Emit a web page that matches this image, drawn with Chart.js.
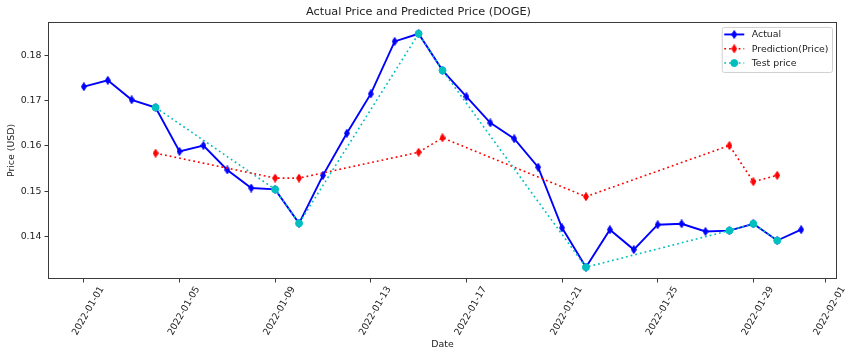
<!DOCTYPE html>
<html><head><meta charset="utf-8">
<script src="https://cdn.jsdelivr.net/npm/chart.js@4.4.0/dist/chart.umd.min.js"></script>
<style>html,body{margin:0;padding:0;background:#fff}#wrap{width:850px;height:358px}</style>
</head><body><div id="wrap"><canvas id="c" width="850" height="358"></canvas></div>
<script>
// ---- data ----
const actualDates = ["2022-01-01","2022-01-02","2022-01-03","2022-01-04","2022-01-05","2022-01-06","2022-01-07","2022-01-08","2022-01-09","2022-01-10","2022-01-11","2022-01-12","2022-01-13","2022-01-14","2022-01-15","2022-01-16","2022-01-17","2022-01-18","2022-01-19","2022-01-20","2022-01-21","2022-01-22","2022-01-23","2022-01-24","2022-01-25","2022-01-26","2022-01-27","2022-01-28","2022-01-29","2022-01-30","2022-01-31"];
const actualPrice = [0.1731,0.1745,0.1702,0.1685,0.1588,0.1601,0.1547,0.1507,0.1504,0.1429,0.1535,0.1628,0.1715,0.1831,0.1848,0.1767,0.1709,0.1651,0.1616,0.1553,0.1419,0.1332,0.1415,0.1371,0.1426,0.1428,0.1411,0.1413,0.1428,0.1391,0.1415];
const predictionDates = ["2022-01-04","2022-01-09","2022-01-10","2022-01-15","2022-01-16","2022-01-22","2022-01-28","2022-01-29","2022-01-30"];
const predictionPrice = [0.1584,0.1529,0.1529,0.1586,0.1618,0.1488,0.1601,0.1521,0.1535];
const testDates = ["2022-01-04","2022-01-09","2022-01-10","2022-01-15","2022-01-16","2022-01-22","2022-01-28","2022-01-29","2022-01-30"];
const testPrice = [0.1685,0.1504,0.1429,0.1848,0.1767,0.1332,0.1413,0.1428,0.1391];
const xTickLabels = ["2022-01-01","2022-01-05","2022-01-09","2022-01-13","2022-01-17","2022-01-21","2022-01-25","2022-01-29","2022-02-01"];
const yTickValues = [0.14,0.15,0.16,0.17,0.18];

// ---- helpers ----
const DAY0 = Date.parse("2022-01-01T00:00:00Z");
const toDay = d => (Date.parse(d + "T00:00:00Z") - DAY0) / 86400000;
const pts = (ds, vs) => ds.map((d, i) => ({x: toDay(d), y: vs[i]}));

function thinDiamond(color, w, h) {
  const c = document.createElement('canvas');
  c.width = w; c.height = h;
  const g = c.getContext('2d');
  g.beginPath();
  g.moveTo(w/2, 0.5); g.lineTo(w-0.5, h/2); g.lineTo(w/2, h-0.5); g.lineTo(0.5, h/2); g.closePath();
  g.fillStyle = color; g.fill();
  g.strokeStyle = color; g.lineWidth = 1; g.stroke();
  return c;
}
const blueD = thinDiamond('#0000ff', 6, 9);
const redD = thinDiamond('#ff0000', 6, 9);

const FONT = "'DejaVu Sans', sans-serif";
const TXT = '#222';
const AX = '#3a3a3a';

const framePlugin = {
  id: 'frame',
  afterDatasetsDraw(chart) {
    const {ctx, chartArea: a} = chart;
    ctx.save();
    ctx.strokeStyle = AX; ctx.lineWidth = 1;
    ctx.strokeRect(Math.round(a.left) + 0.5, Math.round(a.top) + 0.5, Math.round(a.right - a.left) - 1, Math.round(a.bottom - a.top) - 1);
    ctx.restore();
  }
};

const legendPlugin = {
  id: 'mplLegend',
  afterDraw(chart) {
    const {ctx, chartArea: a} = chart;
    const dsets = chart.data.datasets;
    ctx.save();
    ctx.font = "9.4px " + FONT;
    const maxW = Math.max(...dsets.map(d => ctx.measureText(d.label).width));
    const right = a.right - 5, top = a.top + 5;
    const textX = right - 3.5 - maxW;
    const hEnd = textX - 7.5, hStart = hEnd - 20;
    const left = hStart - 2.5;
    const rowH = 14.3, bottom = top + 45;
    ctx.fillStyle = 'rgba(255,255,255,0.85)';
    ctx.strokeStyle = '#d0d0d0'; ctx.lineWidth = 1;
    ctx.beginPath();
    if (ctx.roundRect) ctx.roundRect(left + 0.5, top + 0.5, right - left, bottom - top, 2); else ctx.rect(left + 0.5, top + 0.5, right - left, bottom - top);
    ctx.fill(); ctx.stroke();
    dsets.forEach((d, i) => {
      const y = top + 7.5 + i * rowH;
      ctx.save();
      ctx.strokeStyle = d.borderColor; ctx.lineWidth = d.borderWidth;
      ctx.setLineDash(d.borderDash || []);
      ctx.beginPath(); ctx.moveTo(hStart, y); ctx.lineTo(hEnd, y); ctx.stroke();
      ctx.restore();
      const cx = (hStart + hEnd) / 2;
      if (typeof d.pointStyle === 'string') {
        ctx.fillStyle = d.pointBackgroundColor; ctx.strokeStyle = d.pointBorderColor; ctx.lineWidth = 1;
        ctx.beginPath(); ctx.arc(cx, y, d.pointRadius, 0, Math.PI * 2); ctx.fill(); ctx.stroke();
      } else {
        ctx.drawImage(d.pointStyle, cx - d.pointStyle.width / 2, y - d.pointStyle.height / 2);
      }
      ctx.fillStyle = TXT; ctx.textBaseline = 'middle'; ctx.textAlign = 'left';
      ctx.fillText(d.label, textX, y + 0.5);
    });
    ctx.restore();
  }
};

new Chart(document.getElementById('c'), {
  type: 'line',
  data: {
    datasets: [
      {label: 'Actual', data: pts(actualDates, actualPrice), borderColor: '#0000ff', backgroundColor: '#0000ff', borderWidth: 1.9,
       pointStyle: blueD, pointRadius: 4, pointBackgroundColor: '#0000ff', pointBorderColor: '#0000ff', order: 3, tension: 0},
      {label: 'Prediction(Price)', data: pts(predictionDates, predictionPrice), borderColor: '#ff0000', backgroundColor: '#ff0000', borderWidth: 1.6,
       borderDash: [1.8, 3], pointStyle: redD, pointRadius: 4, pointBackgroundColor: '#ff0000', pointBorderColor: '#ff0000', order: 2, tension: 0},
      {label: 'Test price', data: pts(testDates, testPrice), borderColor: '#00bfbf', backgroundColor: '#00bfbf', borderWidth: 1.6,
       borderDash: [1.8, 3], pointStyle: 'circle', pointRadius: 3.5, pointBorderWidth: 1, pointBackgroundColor: '#00bfbf', pointBorderColor: '#00bfbf', order: 1, tension: 0}
    ]
  },
  options: {
    responsive: false,
    devicePixelRatio: 1,
    animation: false,
    events: [],
    layout: {padding: {left: 0, right: 13, top: 0, bottom: 0}},
    plugins: {
      legend: {display: false},
      tooltip: {enabled: false},
      title: {display: true, text: 'Actual Price and Predicted Price (DOGE)', color: TXT,
              font: {family: FONT, size: 11.3, weight: 'normal'}, padding: {top: 5, bottom: 3.4}}
    },
    scales: {
      x: {
        type: 'linear', min: -1.5, max: 31.5,
        afterBuildTicks: s => { s.ticks = xTickLabels.map(t => ({value: toDay(t)})); },
        afterFit: s => { s.height = 79; },
        ticks: {autoSkip: false, minRotation: 60, maxRotation: 60, labelOffset: 18, padding: 2,
                color: TXT, font: {family: FONT, size: 9.4},
                callback: (v, i) => xTickLabels[i]},
        grid: {display: true, drawOnChartArea: false, drawTicks: true, tickLength: 3.5, tickColor: AX},
        border: {display: false},
        title: {display: true, text: 'Date', color: TXT, font: {family: FONT, size: 9.4}, padding: {top: 0, bottom: 7.4}}
      },
      y: {
        type: 'linear', min: 0.1306, max: 0.1874,
        afterBuildTicks: s => { s.ticks = yTickValues.map(v => ({value: v})); },
        afterFit: s => { s.width = 48; },
        ticks: {color: TXT, font: {family: FONT, size: 9.4}, padding: 3, callback: v => v.toFixed(2)},
        grid: {display: true, drawOnChartArea: false, drawTicks: true, tickLength: 3.5, tickColor: AX},
        border: {display: false},
        title: {display: true, text: 'Price (USD)', color: TXT, font: {family: FONT, size: 9.4}, padding: {top: 6.4, bottom: 0}}
      }
    }
  },
  plugins: [framePlugin, legendPlugin]
});
</script>
</body></html>
